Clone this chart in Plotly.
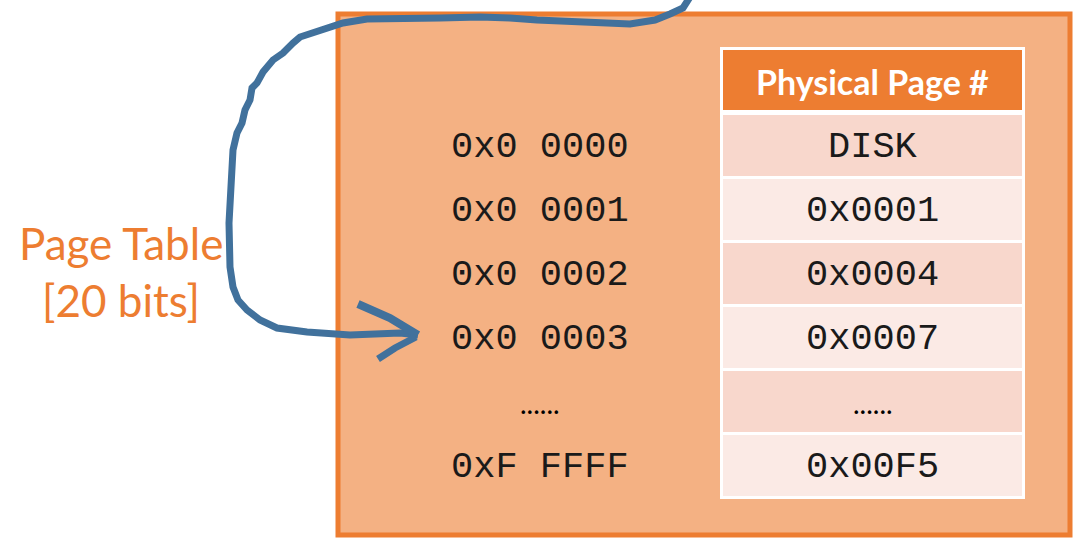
import plotly.graph_objects as go

# ---- data ----
virtual_pages = ["0x0 0000", "0x0 0001", "0x0 0002", "0x0 0003", "......", "0xF FFFF"]
physical_pages = ["DISK", "0x0001", "0x0004", "0x0007", "......", "0x00F5"]
header_text = "Physical Page #"
label_lines = ["Page Table", "[20 bits]"]

# hand-drawn arrow path (pixel coordinates of the sketch)
curve_x = [690, 683, 670, 655, 630, 597, 560, 537, 510, 480, 440, 400, 367, 343, 320, 300, 293, 283,
           273, 263, 257, 252, 250, 245, 242, 237, 233, 232, 230, 229, 230, 233, 238, 247, 260, 277,
           307, 350, 400, 418]
curve_y = [-3, 8, 14, 20, 24, 23, 21, 20, 18, 17, 18, 18, 19, 23, 30, 37, 43, 53,
           60, 72, 83, 88, 100, 110, 123, 133, 150, 173, 200, 223, 267, 287, 300, 310, 320, 328,
           332, 335, 333, 335]
barb1_x = [358, 390, 418]
barb1_y = [304, 318, 335]
barb2_x = [378, 395, 416]
barb2_y = [359, 348, 337]

# ---- style ----
ORANGE = "#ED7D31"
FILL = "#F4B183"
ROW_DARK = "#F8D7CC"
ROW_LIGHT = "#FBEAE5"
BLUE = "#41719C"
W, H = 1076, 541

fig = go.Figure()

shapes = []
# outer box
shapes.append(dict(type="rect", x0=338, y0=14, x1=1070, y1=535,
                   line=dict(color=ORANGE, width=5), fillcolor=FILL, layer="below"))
# table white background
tx0, tx1 = 720, 1025
shapes.append(dict(type="rect", x0=tx0, y0=47, x1=tx1, y1=499,
                   line=dict(width=0), fillcolor="white", layer="below"))
# header
shapes.append(dict(type="rect", x0=tx0 + 3, y0=50, x1=tx1 - 3, y1=110,
                   line=dict(width=0), fillcolor=ORANGE, layer="below"))
row_top = 113
pitch = 64
for i in range(len(physical_pages)):
    y0 = row_top + i * pitch
    shapes.append(dict(type="rect", x0=tx0 + 3, y0=y0 + 2, x1=tx1 - 3, y1=y0 + pitch - 1,
                       line=dict(width=0), fillcolor=ROW_DARK if i % 2 == 0 else ROW_LIGHT,
                       layer="below"))

annotations = []
annotations.append(dict(x=(tx0 + tx1) / 2, y=81, text="<b>%s</b>" % header_text, showarrow=False,
                        font=dict(family="Lato", size=34, color="white"),
                        xanchor="center", yanchor="middle"))
for i, (v, p) in enumerate(zip(virtual_pages, physical_pages)):
    yc = row_top + i * pitch + pitch / 2 + 2
    if v.startswith("."):
        fnt = dict(family="Lato", size=28, color="black")
    else:
        fnt = dict(family="Liberation Mono", size=37, color="#1a1a1a")
    annotations.append(dict(x=540, y=yc, text=v, showarrow=False, font=fnt,
                            xanchor="center", yanchor="middle"))
    annotations.append(dict(x=(tx0 + tx1) / 2, y=yc, text=p, showarrow=False, font=fnt,
                            xanchor="center", yanchor="middle"))
for j, line in enumerate(label_lines):
    annotations.append(dict(x=121, y=243 + j * 57, text=line, showarrow=False,
                            font=dict(family="Lato", size=44, color=ORANGE),
                            xanchor="center", yanchor="middle"))

fig.add_trace(go.Scatter(x=curve_x, y=curve_y, mode="lines",
                         line=dict(color=BLUE, width=7), hoverinfo="skip"))
fig.add_trace(go.Scatter(x=barb1_x, y=barb1_y, mode="lines",
                         line=dict(color=BLUE, width=8), hoverinfo="skip"))
fig.add_trace(go.Scatter(x=barb2_x, y=barb2_y, mode="lines",
                         line=dict(color=BLUE, width=7), hoverinfo="skip"))

fig.update_layout(
    width=W, height=H, margin=dict(l=0, r=0, t=0, b=0),
    paper_bgcolor="white", plot_bgcolor="white", showlegend=False,
    xaxis=dict(range=[0, W], visible=False, fixedrange=True),
    yaxis=dict(range=[H, 0], visible=False, fixedrange=True),
    shapes=shapes, annotations=annotations,
)
fig.write_html("out.html", config={"displayModeBar": False},
               post_script="document.body.style.margin='0';document.body.style.overflow='hidden';")
